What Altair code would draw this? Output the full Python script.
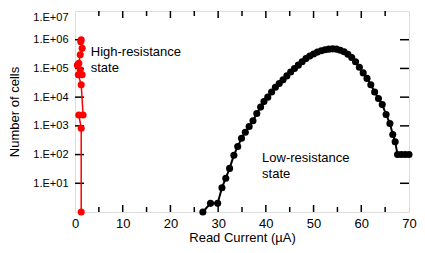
import altair as alt
import pandas as pd

# Low-resistance state (black)
lrs_current = [26.8, 28.4, 29.9, 30.8, 31.6, 32.4, 33.3, 34.1, 34.9, 35.7, 36.5, 37.3,
               38.1, 38.9, 39.6, 40.4, 41.2, 42.0, 42.8, 43.6, 44.4, 45.2, 46.0, 46.8,
               47.6, 48.4, 49.2, 50.0, 50.8, 51.6, 52.4, 53.2, 54.0, 54.8, 55.6, 56.4,
               57.2, 58.0, 58.8, 59.6, 60.4, 61.2, 62.0, 62.8, 63.6, 64.4, 65.2, 66.0,
               66.6, 67.1, 67.6, 68.4, 69.2, 70.0]
lrs_cells = [1, 2, 2, 7, 15, 33, 95, 190, 370, 600, 950, 1.5e3,
             2.7e3, 4.5e3, 7e3, 1.0e4, 1.5e4, 2.2e4, 3.0e4, 4.0e4, 5.5e4, 7.5e4, 1.0e5, 1.3e5,
             1.7e5, 2.2e5, 2.7e5, 3.2e5, 3.7e5, 4.1e5, 4.5e5, 4.7e5, 4.8e5, 4.7e5, 4.3e5, 3.8e5,
             3.1e5, 2.4e5, 1.7e5, 1.1e5, 7e4, 4.5e4, 2.7e4, 1.5e4, 9e3, 5.5e3, 2.5e3, 1.2e3,
             500, 280, 100, 100, 100, 100]

# High-resistance state (red)
hrs_current = [1.3, 1.3, 0.8, 1.7, 1.3, 0.7, 1.5, 1.1, 0.5, 0.8, 1.1, 1.5, 1.2, 1.3]
hrs_cells = [1, 830, 2400, 2400, 2.7e4, 6e4, 6e4, 9e4, 1.3e5, 1.5e5, 3e5, 5e5, 8.5e5, 1e6]

x_labels = [0, 10, 20, 30, 40, 50, 60, 70]
x_major_ticks = [10, 20, 30, 40, 50, 60]
x_minor_ticks = [5, 15, 25, 35, 45, 55, 65]
y_ticks = [10, 100, 1e3, 1e4, 1e5, 1e6, 1e7]
y_inner_ticks = [10, 100, 1e3, 1e4, 1e5, 1e6]

ann_text = ["High-resistance\nstate", "Low-resistance\nstate"]
ann_x = [3.3, 39.2]
ann_y = [3.7e5, 76]

FONT = "Liberation Sans"
W, H = 334, 201

lrs = pd.DataFrame({"current": lrs_current, "cells": lrs_cells, "order": range(len(lrs_current))})
hrs = pd.DataFrame({"current": hrs_current, "cells": hrs_cells, "order": range(len(hrs_current))})
ann = pd.DataFrame({"t": ann_text, "x": ann_x, "y": ann_y})

xs = alt.Scale(domain=[0, 70], nice=False, zero=False)
ys = alt.Scale(type="log", domain=[1, 1e7], nice=False)

x_axis = alt.Axis(values=x_labels, title="Read Current (µA)", grid=False, ticks=False,
                  domain=False, labelFont=FONT, labelFontSize=13, labelColor="black",
                  labelPadding=5, titleFont=FONT, titleFontSize=13, titleFontWeight="normal",
                  titleColor="black", titlePadding=1, labelFlush=False)
y_axis = alt.Axis(values=y_ticks, title="Number of cells", grid=False, ticks=False,
                  domain=False, labelFont=FONT, labelFontSize=11, labelColor="black",
                  labelPadding=7, labelExpr="'1.E+0' + round(log(datum.value)/LN10)",
                  labelFlush=True, labelFlushOffset=0,
                  titleFont=FONT, titleFontSize=13, titleFontWeight="normal",
                  titleColor="black", titlePadding=11)

base_x = alt.X("current:Q", scale=xs, axis=x_axis)
base_y = alt.Y("cells:Q", scale=ys, axis=y_axis)

lrs_line = alt.Chart(lrs).mark_line(color="black", strokeWidth=2).encode(
    x=base_x, y=base_y, order="order:Q")
lrs_pts = alt.Chart(lrs).mark_circle(color="black", size=50, opacity=1).encode(
    x="current:Q", y="cells:Q")
hrs_line = alt.Chart(hrs).mark_line(color="#ff0000", strokeWidth=1.5).encode(
    x="current:Q", y="cells:Q", order="order:Q")
hrs_pts = alt.Chart(hrs).mark_circle(color="#ff0000", size=50, opacity=1).encode(
    x="current:Q", y="cells:Q")

xt_major = pd.DataFrame({"current": x_major_ticks})
xt_minor = pd.DataFrame({"current": x_minor_ticks})
yt = pd.DataFrame({"cells": y_inner_ticks})

tick_layers = []
for df, ln in [(xt_major, 7), (xt_minor, 5)]:
    tick_layers.append(alt.Chart(df).mark_rule(color="black", strokeWidth=1.5).encode(
        x="current:Q", y=alt.value(H), y2=alt.value(H - ln)))
    tick_layers.append(alt.Chart(df).mark_rule(color="black", strokeWidth=1.5).encode(
        x="current:Q", y=alt.value(0), y2=alt.value(ln)))
tick_layers.append(alt.Chart(yt).mark_rule(color="black", strokeWidth=1.5).encode(
    y="cells:Q", x=alt.value(0), x2=alt.value(9)))
tick_layers.append(alt.Chart(yt).mark_rule(color="black", strokeWidth=1.5).encode(
    y="cells:Q", x=alt.value(W), x2=alt.value(W - 9)))

ann_layer = alt.Chart(ann).mark_text(align="left", baseline="middle", font=FONT,
                                     fontSize=13, lineBreak="\n", lineHeight=16,
                                     color="black").encode(
    x=alt.X("x:Q"), y=alt.Y("y:Q"), text="t:N")

chart = alt.layer(lrs_line, *tick_layers, lrs_pts, hrs_line, hrs_pts, ann_layer).properties(
    width=W, height=H,
    autosize=alt.AutoSizeParams(type="none"),
    padding={"left": 67, "top": 3, "right": 8, "bottom": 33},
).configure_view(stroke="black", strokeWidth=2).configure(background="white")

chart.save("out.html", embed_options={"renderer": "svg", "actions": False})
